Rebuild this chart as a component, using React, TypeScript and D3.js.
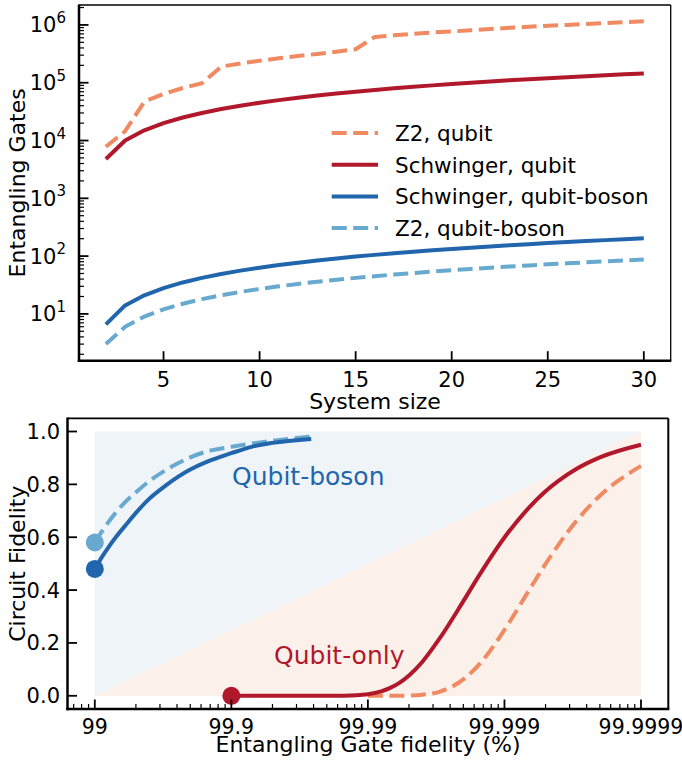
import React from 'react';
import * as d3 from 'd3';

// ---- Gate counts vs system size ----
const systemSizes = [2, 3, 4, 5, 6, 7, 8, 9, 10, 11, 12, 13, 14, 15, 16, 17, 18, 19, 20, 21, 22, 23, 24, 25, 26, 27, 28, 29, 30];
const z2Qubit = [7.8e3, 1.45e4, 4.7e4, 6.4e4, 8.1e4, 9.8e4, 1.9e5, 2.15e5, 2.4e5, 2.65e5, 2.9e5, 3.15e5, 3.45e5, 3.8e5, 6.2e5, 6.6e5, 7.0e5, 7.4e5, 7.7e5, 8.1e5, 8.5e5, 8.9e5, 9.3e5, 9.7e5, 1.0e6, 1.04e6, 1.08e6, 1.12e6, 1.16e6];
const schwingerQubit = [4.8e3, 1.0e4, 1.5e4, 2.0e4, 2.5e4, 3.0e4, 3.5e4, 4.0e4, 4.5e4, 5.0e4, 5.5e4, 6.0e4, 6.5e4, 7.0e4, 7.5e4, 8.0e4, 8.5e4, 9.0e4, 9.5e4, 1.0e5, 1.05e5, 1.1e5, 1.15e5, 1.2e5, 1.25e5, 1.3e5, 1.35e5, 1.4e5, 1.45e5];
const schwingerBoson = [6.6, 14, 21, 28, 35, 42, 49, 56, 63, 70, 77, 84, 91, 98, 105, 112, 119, 126, 133, 140, 147, 154, 161, 168, 175, 182, 189, 196, 203];
const z2Boson = [3, 6, 9, 12, 15, 18, 21, 24, 27, 30, 33, 36, 39, 42, 45, 48, 51, 54, 57, 60, 63, 66, 69, 72, 75, 78, 81, 84, 87];

const legendLabels = ['Z2, qubit', 'Schwinger, qubit', 'Schwinger, qubit-boson', 'Z2, qubit-boson'];
const sizeTicks = [5, 10, 15, 20, 25, 30];
const gateDecades = [1, 2, 3, 4, 5, 6];

// ---- Circuit fidelity vs entangling gate fidelity (%) ----
const bosonSchwingerGateFid = [99.0, 99.1, 99.2, 99.3, 99.4, 99.5, 99.6, 99.7, 99.8, 99.85, 99.9, 99.93, 99.95, 99.974];
const bosonSchwingerCircFid = [0.48, 0.52, 0.56, 0.601, 0.643, 0.692, 0.745, 0.797, 0.856, 0.886, 0.918, 0.943, 0.957, 0.972];
const bosonZ2GateFid = [99.0, 99.1, 99.2, 99.3, 99.4, 99.5, 99.6, 99.7, 99.8, 99.85, 99.9, 99.93, 99.95, 99.974];
const bosonZ2CircFid = [0.58, 0.617, 0.655, 0.694, 0.733, 0.77, 0.812, 0.855, 0.902, 0.925, 0.942, 0.955, 0.965, 0.981];
const qubitSchwingerGateFid = [99.9, 99.95, 99.98, 99.985, 99.99, 99.992, 99.993, 99.994, 99.995, 99.996, 99.997, 99.998, 99.9985, 99.999, 99.9993, 99.9995, 99.9996, 99.9997, 99.9998, 99.9999];
const qubitSchwingerCircFid = [0.0, 0.0, 0.0, 0.0005, 0.006, 0.0165, 0.028, 0.046, 0.077, 0.128, 0.215, 0.358, 0.463, 0.599, 0.698, 0.774, 0.814, 0.857, 0.902, 0.95];
const qubitZ2GateFid = [99.99, 99.993, 99.995, 99.996, 99.997, 99.998, 99.9985, 99.999, 99.9993, 99.9995, 99.9996, 99.9997, 99.9998, 99.9999];
const qubitZ2CircFid = [0.0, 0.0, 0.001, 0.004, 0.015, 0.062, 0.124, 0.249, 0.378, 0.499, 0.573, 0.659, 0.757, 0.87];

const gateFidTickLabels = ['99', '99.9', '99.99', '99.999', '99.9999'];
const gateFidTickValues = [99, 99.9, 99.99, 99.999, 99.9999];
const circFidTicks = [0, 0.2, 0.4, 0.6, 0.8, 1.0];

const C = {
  darkRed: '#b2182b',
  orange: '#ef8a62',
  darkBlue: '#2166ac',
  lightBlue: '#67a9cf',
  blueShade: '#eff4f9',
  peachShade: '#fcf0ea',
};

const FONT = 'DejaVu Sans, sans-serif';

// gate fidelity in percent -> inverse gate error (the log axis quantity)
const toInvErr = (f: number) => 100 / (100 - f);

export default function App() {
  // top panel frame
  const T = { l: 79, r: 670.7, t: 5, b: 360.7 };
  const xT = d3.scaleLinear().domain([0.6, 31.4]).range([T.l, T.r]);
  const yT = d3.scaleLog().domain([Math.pow(10, 0.19), Math.pow(10, 6.345)]).range([T.b, T.t]);

  // bottom panel frame
  const B = { l: 67.5, r: 668.3, t: 418.3, b: 709 };
  const xB = d3.scaleLog().domain([Math.pow(10, 1.8), Math.pow(10, 6.2)]).range([B.l, B.r]);
  const yB = d3.scaleLinear().domain([-0.05, 1.05]).range([B.b, B.t]);

  const topLine = d3
    .line<[number, number]>()
    .x((d) => xT(d[0]))
    .y((d) => yT(d[1]));
  const pairs = (ys: number[]) => systemSizes.map((s, i) => [s, ys[i]] as [number, number]);

  const botLine = d3
    .line<[number, number]>()
    .x((d) => xB(toInvErr(d[0])))
    .y((d) => yB(d[1]))
    .curve(d3.curveMonotoneX);
  const zip = (xs: number[], ys: number[]) => xs.map((x, i) => [x, ys[i]] as [number, number]);

  const dash = '15 6.5';
  const lw = 4;

  const topSeries = [
    { ys: z2Qubit, color: C.orange, dashed: true },
    { ys: schwingerQubit, color: C.darkRed, dashed: false },
    { ys: schwingerBoson, color: C.darkBlue, dashed: false },
    { ys: z2Boson, color: C.lightBlue, dashed: true },
  ];

  // log minor ticks for the top y axis
  const [yLo, yHi] = yT.domain();
  const yMinor: number[] = [];
  for (let k = 0; k <= 6; k++) {
    for (let m = 2; m <= 9; m++) {
      const v = m * Math.pow(10, k);
      if (v >= yLo && v <= yHi) yMinor.push(v);
    }
  }
  // log minor ticks for the bottom x axis
  const [xLo, xHi] = xB.domain();
  const xMinor: number[] = [];
  for (let k = 1; k <= 6; k++) {
    for (let m = 2; m <= 9; m++) {
      const v = m * Math.pow(10, k);
      if (v >= xLo && v <= xHi) xMinor.push(v);
    }
  }

  const major = 9.5;
  const minor = 5;

  // shaded regimes
  const xStart = xB(toInvErr(99));
  const xEnd = xB(toInvErr(99.9999));
  const y0 = yB(0);
  const y1 = yB(1);

  return (
    <svg
      width={682}
      height={762}
      style={{ position: 'absolute', left: 0, top: 0, background: '#fff' }}
      fontFamily={FONT}
    >
      <rect x={0} y={0} width={682} height={762} fill="#fff" />

      {/* ===== Top panel: gate counts ===== */}
      <g>
        {topSeries.map((s, i) => (
          <path
            key={i}
            d={topLine(pairs(s.ys)) || ''}
            fill="none"
            stroke={s.color}
            strokeWidth={lw}
            strokeDasharray={s.dashed ? dash : undefined}
            strokeLinejoin="round"
          />
        ))}

        {/* legend */}
        {topSeries.map((s, i) => {
          const ly = 133 + i * 31.7;
          return (
            <g key={i}>
              <line
                x1={331.7}
                x2={378}
                y1={ly}
                y2={ly}
                stroke={s.color}
                strokeWidth={lw}
                strokeDasharray={s.dashed ? dash : undefined}
              />
              <text x={395} y={ly + 8} fontSize={21.5} fill="#000">
                {legendLabels[i]}
              </text>
            </g>
          );
        })}

        {/* spines */}
        <line x1={T.l} x2={T.r} y1={T.t} y2={T.t} stroke="#000" strokeWidth={1.3} />
        <line x1={T.r} x2={T.r} y1={T.t} y2={T.b} stroke="#000" strokeWidth={1.3} />
        <line x1={T.l} x2={T.l} y1={T.t - 0.6} y2={T.b + 1.2} stroke="#000" strokeWidth={2.5} />
        <line x1={T.l - 1.2} x2={T.r + 0.6} y1={T.b} y2={T.b} stroke="#000" strokeWidth={2.5} />

        {/* x ticks */}
        {sizeTicks.map((t) => (
          <g key={t}>
            <line x1={xT(t)} x2={xT(t)} y1={T.b} y2={T.b - major} stroke="#000" strokeWidth={1.8} />
            <text x={xT(t)} y={386.7} fontSize={21} textAnchor="middle" fill="#000">
              {t}
            </text>
          </g>
        ))}
        {/* y ticks */}
        {gateDecades.map((k) => {
          const y = yT(Math.pow(10, k));
          return (
            <g key={k}>
              <line x1={T.l} x2={T.l + major} y1={y} y2={y} stroke="#000" strokeWidth={1.8} />
              <text x={66} y={y + 7.5} fontSize={21} textAnchor="end" fill="#000">
                10
                <tspan dy={-9.5} fontSize={15}>
                  {k}
                </tspan>
              </text>
            </g>
          );
        })}
        {yMinor.map((v, i) => (
          <line key={i} x1={T.l} x2={T.l + minor} y1={yT(v)} y2={yT(v)} stroke="#000" strokeWidth={1.2} />
        ))}

        <text x={375} y={409} fontSize={22} textAnchor="middle" fill="#000">
          System size
        </text>
        <text
          transform={`translate(25, ${(T.t + T.b) / 2}) rotate(-90)`}
          fontSize={22}
          textAnchor="middle"
          fill="#000"
        >
          Entangling Gates
        </text>
      </g>

      {/* ===== Bottom panel: circuit fidelity ===== */}
      <g>
        <rect x={xStart} y={y1} width={xEnd - xStart} height={y0 - y1} fill={C.blueShade} />
        <polygon
          points={`${xStart},${y0} ${xEnd},${y0} ${xEnd},${y1}`}
          fill={C.peachShade}
        />

        <path
          d={botLine(zip(bosonZ2GateFid, bosonZ2CircFid)) || ''}
          fill="none"
          stroke={C.lightBlue}
          strokeWidth={lw}
          strokeDasharray={dash}
        />
        <path
          d={botLine(zip(bosonSchwingerGateFid, bosonSchwingerCircFid)) || ''}
          fill="none"
          stroke={C.darkBlue}
          strokeWidth={lw}
        />
        <path
          d={botLine(zip(qubitZ2GateFid, qubitZ2CircFid)) || ''}
          fill="none"
          stroke={C.orange}
          strokeWidth={lw}
          strokeDasharray={dash}
        />
        <path
          d={botLine(zip(qubitSchwingerGateFid, qubitSchwingerCircFid)) || ''}
          fill="none"
          stroke={C.darkRed}
          strokeWidth={lw}
        />

        <circle cx={xB(toInvErr(bosonZ2GateFid[0]))} cy={yB(bosonZ2CircFid[0])} r={9} fill={C.lightBlue} />
        <circle
          cx={xB(toInvErr(bosonSchwingerGateFid[0]))}
          cy={yB(bosonSchwingerCircFid[0])}
          r={9}
          fill={C.darkBlue}
        />
        <circle
          cx={xB(toInvErr(qubitSchwingerGateFid[0]))}
          cy={yB(qubitSchwingerCircFid[0])}
          r={9}
          fill={C.darkRed}
        />

        <text x={232} y={485} fontSize={25} fill={C.darkBlue}>
          Qubit-boson
        </text>
        <text x={274} y={664} fontSize={25} fill={C.darkRed}>
          Qubit-only
        </text>

        {/* spines */}
        <line x1={B.l} x2={B.r} y1={B.t} y2={B.t} stroke="#000" strokeWidth={1.8} />
        <line x1={B.r} x2={B.r} y1={B.t} y2={B.b} stroke="#000" strokeWidth={2} />
        <line x1={B.l} x2={B.l} y1={B.t - 0.9} y2={B.b + 1.2} stroke="#000" strokeWidth={2.5} />
        <line x1={B.l - 1.2} x2={B.r + 1} y1={B.b} y2={B.b} stroke="#000" strokeWidth={2.5} />

        {gateFidTickValues.map((f, i) => {
          const x = xB(toInvErr(f));
          return (
            <g key={i}>
              <line x1={x} x2={x} y1={B.b} y2={B.b - major} stroke="#000" strokeWidth={1.8} />
              <text x={x} y={733.5} fontSize={20.5} textAnchor="middle" fill="#000">
                {gateFidTickLabels[i]}
              </text>
            </g>
          );
        })}
        {xMinor.map((v, i) => (
          <line key={i} x1={xB(v)} x2={xB(v)} y1={B.b} y2={B.b - minor} stroke="#000" strokeWidth={1.2} />
        ))}
        {circFidTicks.map((t) => (
          <g key={t}>
            <line x1={B.l} x2={B.l + major} y1={yB(t)} y2={yB(t)} stroke="#000" strokeWidth={1.8} />
            <text x={60} y={yB(t) + 7.5} fontSize={21} textAnchor="end" fill="#000">
              {t.toFixed(1)}
            </text>
          </g>
        ))}

        <text x={368} y={752} fontSize={22} textAnchor="middle" fill="#000">
          Entangling Gate fidelity (%)
        </text>
        <text
          transform={`translate(25, ${(B.t + B.b) / 2}) rotate(-90)`}
          fontSize={22}
          textAnchor="middle"
          fill="#000"
        >
          Circuit Fidelity
        </text>
      </g>
    </svg>
  );
}
